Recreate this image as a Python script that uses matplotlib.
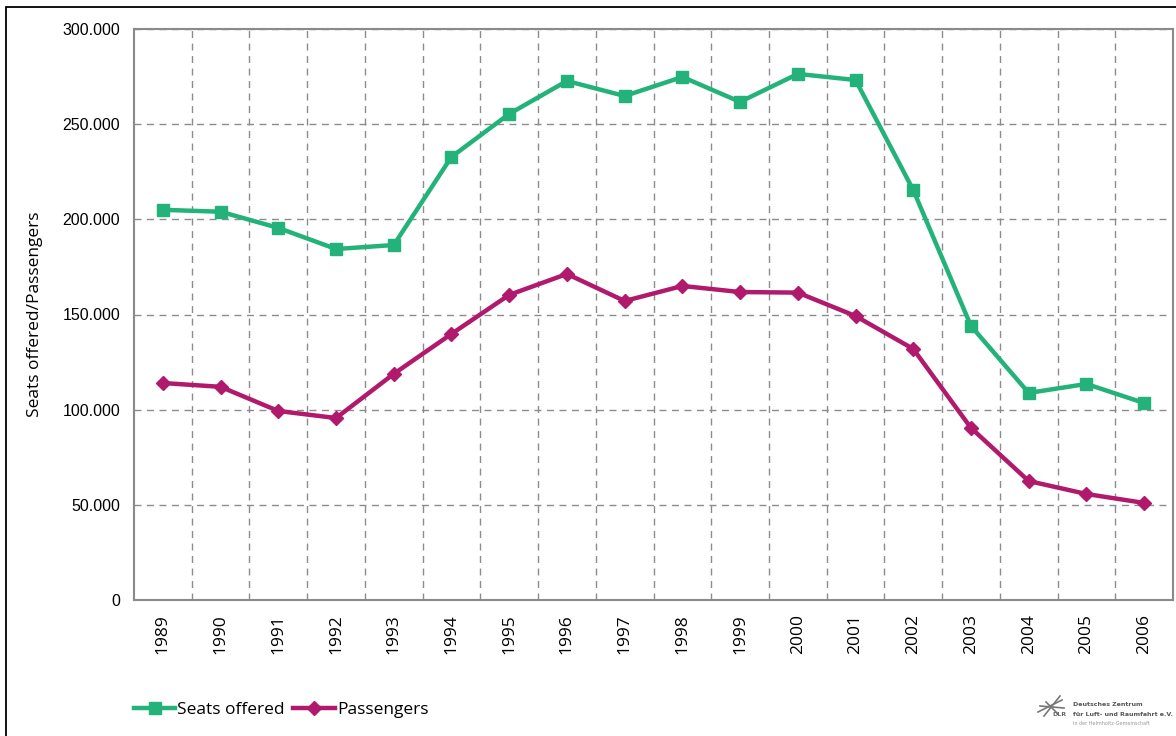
import numpy as np
import matplotlib.pyplot as plt
from matplotlib.patches import Rectangle
from matplotlib.lines import Line2D
from matplotlib.ticker import FuncFormatter, FixedLocator

years = ["1989", "1990", "1991", "1992", "1993", "1994", "1995", "1996", "1997",
         "1998", "1999", "2000", "2001", "2002", "2003", "2004", "2005", "2006"]
seats = [205000, 204000, 195500, 184400, 186500, 232800, 255400, 272700, 264800,
         274800, 261700, 276400, 273200, 215400, 144000, 108800, 113500, 103500]
passengers = [114000, 112000, 99300, 95600, 118800, 139800, 160300, 171300, 157100,
              165000, 161800, 161500, 149200, 131900, 90400, 62500, 55700, 51000]

green = "#22B27A"
magenta = "#B0196C"

fig = plt.figure(figsize=(11.76, 7.36), dpi=100)
ax = fig.add_axes([134/1176, 1 - 600/736, 1039/1176, 571/736])

x = np.arange(len(years))
ax.plot(x, seats, color=green, lw=3.2, marker="s", ms=9, label="Seats offered")
ax.plot(x, passengers, color=magenta, lw=3.2, marker="D", ms=7.5, label="Passengers")

ax.set_xlim(-0.5, len(years) - 0.5)
ax.set_ylim(0, 300000)
ax.set_xticks(x)
ax.set_xticklabels(years, rotation=90, family="Open Sans", fontsize=12.5)
ax.xaxis.set_minor_locator(FixedLocator(np.arange(0.5, len(years) - 0.5, 1)))
ax.set_yticks(np.arange(0, 300001, 50000))
ax.yaxis.set_major_formatter(FuncFormatter(lambda v, p: "0" if v == 0 else f"{int(v):,}".replace(",", ".")))
for lab in ax.get_yticklabels():
    lab.set_family("Liberation Sans")
    lab.set_fontsize(11.5)
ax.tick_params(axis="both", which="both", length=0)
ax.tick_params(axis="x", pad=10)
ax.tick_params(axis="y", pad=10)

ax.grid(True, axis="y", which="major", color="#8c8c8c", ls=(0, (5, 4)), lw=1)
ax.grid(True, axis="x", which="minor", color="#8c8c8c", ls=(0, (5, 4)), lw=1)
ax.grid(False, axis="x", which="major")
ax.set_axisbelow(True)
for s in ax.spines.values():
    s.set_color("#8a8a8a")
    s.set_linewidth(1.5)

ax.set_ylabel("Seats offered/Passengers", family="Open Sans", fontsize=12.5, labelpad=14)

leg = ax.legend(loc="lower left", bbox_to_anchor=(-0.007, -0.219), ncol=2, frameon=False,
                prop={"family": "Open Sans", "size": 12.5}, handlelength=2.4,
                handletextpad=0.1, columnspacing=0.5, borderaxespad=0)

# figure frame
fig.patches.append(Rectangle((6/1176, -0.01), 1.02, 1 - 7/736 + 0.01, transform=fig.transFigure,
                             fill=False, edgecolor="black", lw=1.3))

# logo
px = lambda xp, yp: (xp/1176, 1 - yp/736)
for (x0, y0), (x1, y1) in [((1038, 712), (1062, 700)), ((1044, 716), (1060, 696)),
                           ((1040, 706), (1064, 708)), ((1046, 702), (1058, 714))]:
    a, b = px(x0, y0), px(x1, y1)
    fig.add_artist(Line2D([a[0], b[0]], [a[1], b[1]], color="#777777", lw=1.2))
fig.text(*px(1052, 716), "DLR", fontsize=4.5, color="#666666", weight="bold")
fig.text(*px(1073, 706), "Deutsches Zentrum", fontsize=4.5, color="#555555", weight="bold")
fig.text(*px(1073, 716), "für Luft- und Raumfahrt e.V.", fontsize=4.5, color="#555555", weight="bold")
fig.text(*px(1073, 725), "in der Helmholtz-Gemeinschaft", fontsize=3.5, color="#999999")

fig.savefig("out.png", dpi=100)
